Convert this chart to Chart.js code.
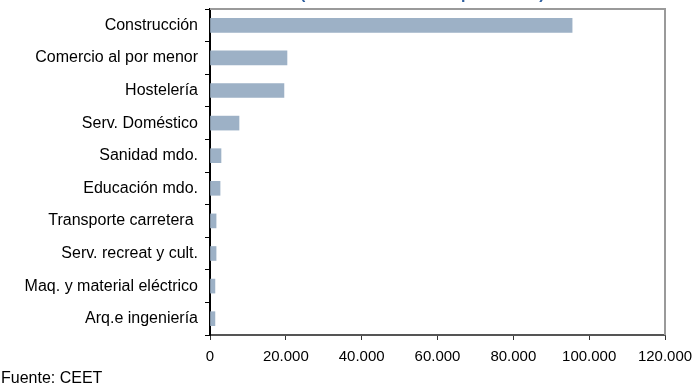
<!DOCTYPE html>
<html>
<head>
<meta charset="utf-8">
<script src="https://cdn.jsdelivr.net/npm/chart.js@4.4.1/dist/chart.umd.min.js"></script>
<style>
  html, body { margin: 0; padding: 0; background: #fff; }
  #wrap { position: relative; width: 696px; height: 387px; overflow: hidden; }
  #titulo { position: absolute; left: 300px; top: -15px; font: bold 16px "Liberation Sans", Arial, sans-serif; color: #2f5f9e; white-space: nowrap; }
  #fuente { position: absolute; left: 1px; top: 369px; font: 16px "Liberation Sans", Arial, sans-serif; color: #000; }
  canvas { position: absolute; left: 0; top: 0; }
</style>
</head>
<body>
<div id="wrap">
  <canvas id="grafico" width="696" height="387"></canvas>
  <div id="titulo">(número de afiliados por sector)</div>
  <div id="fuente">Fuente: CEET</div>
</div>
<script>
// sectores y valores
const sectores = [
  'Construcción',
  'Comercio al por menor',
  'Hostelería',
  'Serv. Doméstico',
  'Sanidad mdo.',
  'Educación mdo.',
  'Transporte carretera ',
  'Serv. recreat y cult.',
  'Maq. y material eléctrico',
  'Arq.e ingeniería'
];
const valores = [95500, 20300, 19500, 7650, 2900, 2650, 1600, 1600, 1300, 1300];
const ejeMax = 120000;
const ejePaso = 20000;

// marco gris arriba y a la derecha del área de trazado
const marco = {
  id: 'marco',
  afterDraw(chart) {
    const { ctx, chartArea: a } = chart;
    ctx.save();
    ctx.strokeStyle = '#9a9a9a';
    ctx.lineWidth = 2;
    ctx.beginPath();
    ctx.moveTo(a.left, a.top);
    ctx.lineTo(a.right, a.top);
    ctx.lineTo(a.right, a.bottom);
    ctx.stroke();
    ctx.restore();
  }
};

const fmt = v => v.toString().replace(/\B(?=(\d{3})+(?!\d))/g, '.');

new Chart(document.getElementById('grafico'), {
  type: 'bar',
  data: {
    labels: sectores,
    datasets: [{
      data: valores,
      backgroundColor: '#9db1c6',
      barThickness: 14
    }]
  },
  options: {
    indexAxis: 'y',
    responsive: false,
    animation: false,
    layout: { padding: { top: 9, right: 31, bottom: 0, left: 0 } },
    plugins: { legend: { display: false }, tooltip: { enabled: false } },
    scales: {
      x: {
        min: 0,
        max: ejeMax,
        afterFit: s => { s.height = 52; s.paddingLeft = 0; s.paddingRight = 0; },
        ticks: {
          stepSize: ejePaso,
          color: '#000',
          maxRotation: 0,
          font: { family: '"Liberation Sans", Arial, sans-serif', size: 15 },
          padding: 8,
          callback: v => fmt(v)
        },
        grid: { drawOnChartArea: false, tickLength: 5, color: '#333' },
        border: { color: '#555', width: 2 }
      },
      y: {
        afterFit: s => { s.width = 210; s.paddingTop = 0; s.paddingBottom = 0; },
        ticks: {
          color: '#000',
          font: { family: '"Liberation Sans", Arial, sans-serif', size: 16 },
          padding: 7
        },
        grid: { drawOnChartArea: false, offset: true, tickLength: 5, color: '#000' },
        border: { color: '#000', width: 2 }
      }
    }
  },
  plugins: [marco]
});
</script>
</body>
</html>
